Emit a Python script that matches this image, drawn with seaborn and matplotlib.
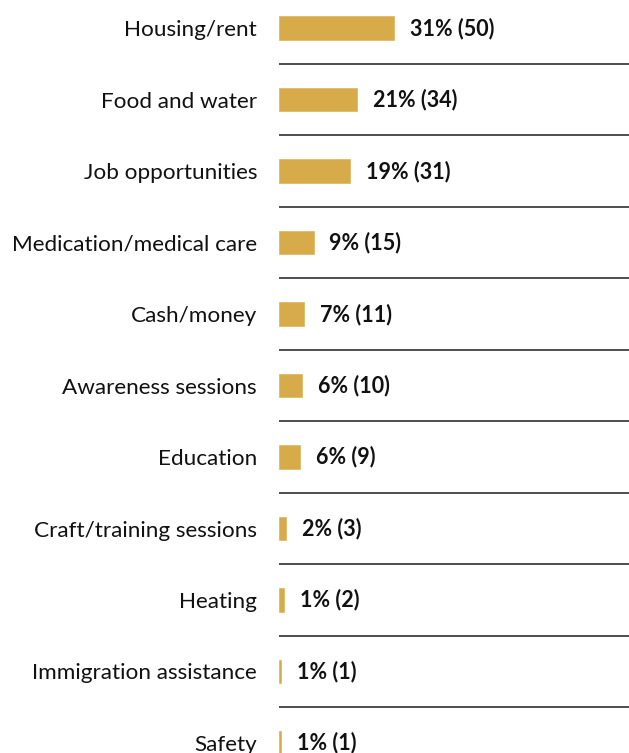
import pandas as pd
import matplotlib.pyplot as plt
import seaborn as sns

categories = ["Housing/rent", "Food and water", "Job opportunities", "Medication/medical care",
              "Cash/money", "Awareness sessions", "Education", "Craft/training sessions",
              "Heating", "Immigration assistance", "Safety"]
counts = [50, 34, 31, 15, 11, 10, 9, 3, 2, 1, 1]
percents = [31, 21, 19, 9, 7, 6, 6, 2, 1, 1, 1]

df = pd.DataFrame({"category": categories, "count": counts, "pct": percents})

sns.set_style("white")
plt.rcParams["font.family"] = ["Lato", "DejaVu Sans"]

fig = plt.figure(figsize=(6.29, 7.53), dpi=100)
ax = fig.add_axes([279 / 629, 0, 350 / 629, 1])

sns.barplot(data=df, x="count", y="category", orient="h", color="#D8AB4A",
            width=0.33, saturation=1, edgecolor="#D8AB4A", linewidth=0.4, ax=ax)

# separators between rows
for i in range(len(categories) - 1):
    ax.axhline(i + 0.5, color="#404040", lw=1.3)

for i, (c, p) in enumerate(zip(counts, percents)):
    ax.annotate(f"{p}% ({c})", xy=(c, i), xytext=(11.5, 0), textcoords="offset points",
                ha="left", va="center", fontsize=15.5, fontweight="bold", color="#111111")

ax.set_xlim(0, 350 / 2.3)
ax.set_ylim(10.14, -0.392)
ax.set_xlabel("")
ax.set_ylabel("")
ax.set_xticks([])
ax.tick_params(axis="y", length=0, pad=15.8, labelsize=16.2, labelcolor="#111111")
sns.despine(ax=ax, left=True, bottom=True)

fig.savefig("out.png", dpi=100)
